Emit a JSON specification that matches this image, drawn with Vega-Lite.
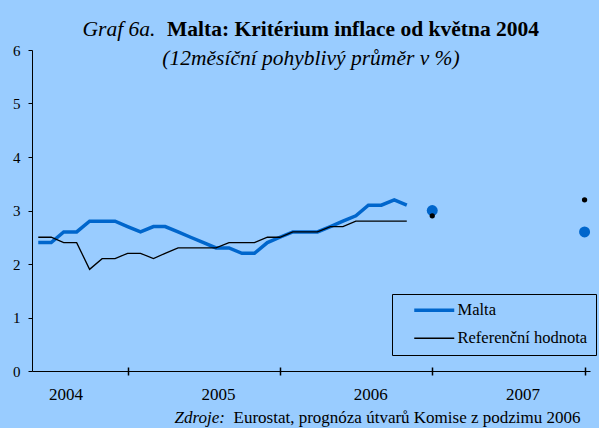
{
  "$schema": "https://vega.github.io/schema/vega-lite/v6.json",
  "width": 558,
  "height": 321,
  "autosize": {"type": "none"},
  "padding": {"left": 32, "top": 50, "right": 9, "bottom": 57},
  "background": "#99CCFF",
  "title": {
    "text": "Malta:  Kritérium inflace od května 2004",
    "subtitle": "(12měsíční pohyblivý průměr v %)",
    "frame": "group",
    "anchor": "middle",
    "font": "Liberation Serif",
    "fontSize": 21.5,
    "fontWeight": "bold",
    "color": "black",
    "subtitleFont": "Liberation Serif",
    "subtitleFontSize": 21.5,
    "subtitleFontStyle": "italic",
    "subtitleColor": "black",
    "subtitlePadding": 7,
    "offset": -51,
    "encoding": {"dx": {"value": 42}}
  },
  "datasets": {
    "monthly": [
      {"date": "2004-05-01", "series": "Malta", "value": 2.4},
      {"date": "2004-06-01", "series": "Malta", "value": 2.4},
      {"date": "2004-07-01", "series": "Malta", "value": 2.6},
      {"date": "2004-08-01", "series": "Malta", "value": 2.6},
      {"date": "2004-09-01", "series": "Malta", "value": 2.8},
      {"date": "2004-10-01", "series": "Malta", "value": 2.8},
      {"date": "2004-11-01", "series": "Malta", "value": 2.8},
      {"date": "2004-12-01", "series": "Malta", "value": 2.7},
      {"date": "2005-01-01", "series": "Malta", "value": 2.6},
      {"date": "2005-02-01", "series": "Malta", "value": 2.7},
      {"date": "2005-03-01", "series": "Malta", "value": 2.7},
      {"date": "2005-04-01", "series": "Malta", "value": 2.6},
      {"date": "2005-05-01", "series": "Malta", "value": 2.5},
      {"date": "2005-06-01", "series": "Malta", "value": 2.4},
      {"date": "2005-07-01", "series": "Malta", "value": 2.3},
      {"date": "2005-08-01", "series": "Malta", "value": 2.3},
      {"date": "2005-09-01", "series": "Malta", "value": 2.2},
      {"date": "2005-10-01", "series": "Malta", "value": 2.2},
      {"date": "2005-11-01", "series": "Malta", "value": 2.4},
      {"date": "2005-12-01", "series": "Malta", "value": 2.5},
      {"date": "2006-01-01", "series": "Malta", "value": 2.6},
      {"date": "2006-02-01", "series": "Malta", "value": 2.6},
      {"date": "2006-03-01", "series": "Malta", "value": 2.6},
      {"date": "2006-04-01", "series": "Malta", "value": 2.7},
      {"date": "2006-05-01", "series": "Malta", "value": 2.8},
      {"date": "2006-06-01", "series": "Malta", "value": 2.9},
      {"date": "2006-07-01", "series": "Malta", "value": 3.1},
      {"date": "2006-08-01", "series": "Malta", "value": 3.1},
      {"date": "2006-09-01", "series": "Malta", "value": 3.2},
      {"date": "2006-10-01", "series": "Malta", "value": 3.1},
      {"date": "2004-05-01", "series": "Referenční hodnota", "value": 2.5},
      {"date": "2004-06-01", "series": "Referenční hodnota", "value": 2.5},
      {"date": "2004-07-01", "series": "Referenční hodnota", "value": 2.4},
      {"date": "2004-08-01", "series": "Referenční hodnota", "value": 2.4},
      {"date": "2004-09-01", "series": "Referenční hodnota", "value": 1.9},
      {"date": "2004-10-01", "series": "Referenční hodnota", "value": 2.1},
      {"date": "2004-11-01", "series": "Referenční hodnota", "value": 2.1},
      {"date": "2004-12-01", "series": "Referenční hodnota", "value": 2.2},
      {"date": "2005-01-01", "series": "Referenční hodnota", "value": 2.2},
      {"date": "2005-02-01", "series": "Referenční hodnota", "value": 2.1},
      {"date": "2005-03-01", "series": "Referenční hodnota", "value": 2.2},
      {"date": "2005-04-01", "series": "Referenční hodnota", "value": 2.3},
      {"date": "2005-05-01", "series": "Referenční hodnota", "value": 2.3},
      {"date": "2005-06-01", "series": "Referenční hodnota", "value": 2.3},
      {"date": "2005-07-01", "series": "Referenční hodnota", "value": 2.3},
      {"date": "2005-08-01", "series": "Referenční hodnota", "value": 2.4},
      {"date": "2005-09-01", "series": "Referenční hodnota", "value": 2.4},
      {"date": "2005-10-01", "series": "Referenční hodnota", "value": 2.4},
      {"date": "2005-11-01", "series": "Referenční hodnota", "value": 2.5},
      {"date": "2005-12-01", "series": "Referenční hodnota", "value": 2.5},
      {"date": "2006-01-01", "series": "Referenční hodnota", "value": 2.6},
      {"date": "2006-02-01", "series": "Referenční hodnota", "value": 2.6},
      {"date": "2006-03-01", "series": "Referenční hodnota", "value": 2.6},
      {"date": "2006-04-01", "series": "Referenční hodnota", "value": 2.7},
      {"date": "2006-05-01", "series": "Referenční hodnota", "value": 2.7},
      {"date": "2006-06-01", "series": "Referenční hodnota", "value": 2.8},
      {"date": "2006-07-01", "series": "Referenční hodnota", "value": 2.8},
      {"date": "2006-08-01", "series": "Referenční hodnota", "value": 2.8},
      {"date": "2006-09-01", "series": "Referenční hodnota", "value": 2.8},
      {"date": "2006-10-01", "series": "Referenční hodnota", "value": 2.8}
    ],
    "forecast": [
      {"date": "2006-12-01", "series": "Malta", "value": 3.0},
      {"date": "2007-12-01", "series": "Malta", "value": 2.6},
      {"date": "2006-12-01", "series": "Referenční hodnota", "value": 2.9},
      {"date": "2007-12-01", "series": "Referenční hodnota", "value": 3.2}
    ]
  },
  "encoding": {
    "y": {
      "field": "value",
      "type": "quantitative",
      "scale": {"domain": [0, 6], "nice": false, "zero": true},
      "axis": {
        "values": [0, 1, 2, 3, 4, 5, 6],
        "grid": false,
        "domainColor": "black",
        "domainWidth": 1,
        "tickColor": "black",
        "tickSize": 4,
        "labelFont": "Liberation Serif",
        "labelFontSize": 15,
        "labelColor": "black",
        "labelPadding": 8,
        "title": "Graf 6a.",
        "titleX": 50,
        "titleY": -15,
        "titleAngle": 0,
        "titleAlign": "left",
        "titleBaseline": "alphabetic",
        "titleFont": "Liberation Serif",
        "titleFontSize": 21.5,
        "titleFontStyle": "italic",
        "titleFontWeight": "normal",
        "titleColor": "black"
      }
    }
  },
  "layer": [
    {
      "data": {"name": "monthly"},
      "mark": {"type": "line"},
      "encoding": {
        "x": {
          "field": "date",
          "type": "temporal",
          "scale": {
            "type": "utc",
            "domain": [
              {"year": 2004, "month": 4, "date": 16, "utc": true},
              {"year": 2007, "month": 12, "date": 14, "utc": true}
            ]
          },
          "axis": {
            "values": [
              {"year": 2004, "month": 12, "date": 1, "utc": true},
              {"year": 2005, "month": 12, "date": 1, "utc": true},
              {"year": 2006, "month": 12, "date": 1, "utc": true},
              {"year": 2007, "month": 12, "date": 1, "utc": true}
            ],
            "labelExpr": "utcFormat(datum.value, '%Y')",
            "labelOffset": -62,
            "labelOverlap": false,
            "labelFlush": false,
            "labelBound": false,
            "grid": false,
            "ticks": false,
            "domainColor": "black",
            "domainWidth": 1,
            "labelFont": "Liberation Serif",
            "labelFontSize": 17,
            "labelColor": "black",
            "labelPadding": 15,
            "title": "Eurostat, prognóza útvarů Komise z podzimu 2006",
            "titleX": 201,
            "titleY": 51,
            "titleAlign": "left",
            "titleBaseline": "alphabetic",
            "titleFont": "Liberation Serif",
            "titleFontSize": 17,
            "titleFontWeight": "normal",
            "titleColor": "black"
          }
        },
        "color": {
          "field": "series",
          "type": "nominal",
          "scale": {"domain": ["Malta", "Referenční hodnota"], "range": ["#0066CC", "#000000"]},
          "legend": {
            "title": null,
            "encode": {
              "symbols": {
                "update": {
                  "strokeWidth": {"signal": "datum.value === 'Malta' ? 3.5 : 1.3"}
                }
              }
            }
          }
        },
        "strokeWidth": {
          "field": "series",
          "type": "nominal",
          "scale": {"domain": ["Malta", "Referenční hodnota"], "range": [3.5, 1.3]},
          "legend": null
        }
      }
    },
    {
      "data": {"name": "forecast"},
      "transform": [{"filter": "datum.series === 'Malta'"}],
      "mark": {"type": "point", "filled": true, "opacity": 1, "color": "#0066CC", "size": 120},
      "encoding": {
        "x": {
          "field": "date",
          "type": "temporal",
          "scale": {
            "type": "utc",
            "domain": [
              {"year": 2004, "month": 4, "date": 16, "utc": true},
              {"year": 2007, "month": 12, "date": 14, "utc": true}
            ]
          },
          "axis": {
            "orient": "bottom",
            "offset": -4,
            "values": [
              {"year": 2004, "month": 12, "date": 1, "utc": true},
              {"year": 2005, "month": 12, "date": 1, "utc": true},
              {"year": 2006, "month": 12, "date": 1, "utc": true},
              {"year": 2007, "month": 12, "date": 1, "utc": true}
            ],
            "labels": false,
            "domain": false,
            "grid": false,
            "ticks": true,
            "tickSize": 8,
            "tickColor": "black",
            "tickWidth": 1.5,
            "title": "Zdroje:",
            "titleX": 142,
            "titleY": 55,
            "titleAlign": "left",
            "titleBaseline": "alphabetic",
            "titleFont": "Liberation Serif",
            "titleFontSize": 17,
            "titleFontStyle": "italic",
            "titleFontWeight": "normal",
            "titleColor": "black"
          }
        }
      }
    },
    {
      "data": {"name": "forecast"},
      "transform": [{"filter": "datum.series === 'Referenční hodnota'"}],
      "mark": {"type": "point", "filled": true, "opacity": 1, "color": "#000000", "size": 28},
      "encoding": {
        "x": {
          "field": "date",
          "type": "temporal",
          "scale": {
            "type": "utc",
            "domain": [
              {"year": 2004, "month": 4, "date": 16, "utc": true},
              {"year": 2007, "month": 12, "date": 14, "utc": true}
            ]
          },
          "axis": null
        }
      }
    }
  ],
  "resolve": {"axis": {"x": "independent"}},
  "config": {
    "view": {"stroke": null},
    "legend": {
      "orient": "none",
      "legendX": 360,
      "legendY": 244,
      "strokeColor": "black",
      "padding": 8,
      "symbolType": "M-4,0H4",
      "symbolStrokeWidth": 2.5,
      "symbolOffset": 26,
      "labelFont": "Liberation Serif",
      "labelFontSize": 16.5,
      "labelColor": "black",
      "labelOffset": 15,
      "rowPadding": 11
    }
  }
}
